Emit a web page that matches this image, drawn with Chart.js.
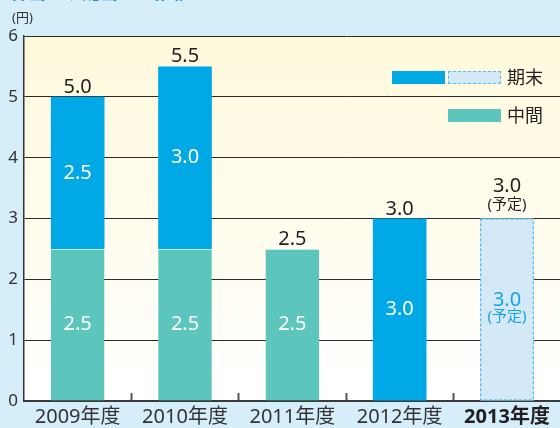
<!DOCTYPE html>
<html lang="ja">
<head>
<meta charset="utf-8">
<script src="https://cdn.jsdelivr.net/npm/chart.js@4.4.1/dist/chart.umd.min.js"></script>
<style>
  html, body {
    margin: 0;
    padding: 0;
  }
  body {
    width: 560px;
    height: 428px;
    overflow: hidden;
    position: relative;
    background: #d6edfa;
    font-family: 'Noto Sans', 'Noto Sans CJK JP', sans-serif;
    color: #231f20;
  }
  #chartBox {
    position: absolute;
    left: 0;
    top: 0;
    width: 668px;
    height: 428px;
  }
  .title {
    position: absolute;
    left: 0;
    top: -22px;
    font-size: 18px;
    font-weight: bold;
    color: #1b8fd6;
    white-space: nowrap;
  }
  .unit {
    position: absolute;
    left: 12px;
    top: 7px;
    font-size: 13px;
    color: #333;
  }
  .legend-box {
    position: absolute;
    width: 53px;
    height: 13px;
    box-sizing: border-box;
  }
  .legend-text {
    position: absolute;
    left: 507px;
    font-size: 18px;
    line-height: 20px;
    color: #231f20;
  }
</style>
</head>
<body>
<div id="chartBox"><canvas id="dividendChart" width="668" height="428"></canvas></div>
<div class="title">1株当たり配当金の推移</div>
<div class="unit">(円)</div>
<div class="legend-box" style="left:392px;top:71px;background:#00a8e5;"></div>
<div class="legend-box" style="left:448px;top:71px;background:#d3e9f8;border:1px dashed #58bde9;"></div>
<div class="legend-text" style="top:67px;">期末</div>
<div class="legend-box" style="left:448px;top:109px;background:#5cc5bc;"></div>
<div class="legend-text" style="top:105px;">中間</div>
<script>
const categories = ['2009年度', '2010年度', '2011年度', '2012年度', '2013年度'];
const interimValues = [2.5, 2.5, 2.5, null, null];   // 中間
const yearEndValues = [2.5, 3.0, null, 3.0, null];   // 期末
const plannedValues = [null, null, null, null, 3.0]; // 期末 (予定)
const yMin = 0;
const yMax = 6;
const yStep = 1;

const BLUE = '#00a8e5';
const TEAL = '#5cc5bc';
const PLAN_FILL = '#d3e9f8';
const PLAN_LINE = '#38b3e8';
const TEXT = '#231f20';
const FONT = "'Noto Sans', 'Noto Sans CJK JP', sans-serif";

Chart.defaults.font.family = FONT;

// chart area background: pale yellow fading to white
const areaBackground = {
  id: 'areaBackground',
  beforeDraw(chart) {
    const { ctx, chartArea: a } = chart;
    const g = ctx.createLinearGradient(0, a.top, 0, a.bottom);
    g.addColorStop(0, '#fff9db');
    g.addColorStop(1, '#ffffff');
    ctx.save();
    ctx.fillStyle = g;
    ctx.fillRect(a.left, a.top, a.right - a.left, a.bottom - a.top);
    ctx.restore();
  }
};

// value labels inside bars, totals above, dashed outline for the planned bar
const valueLabels = {
  id: 'valueLabels',
  afterDatasetsDraw(chart) {
    const ctx = chart.ctx;
    const tops = [];
    const totals = [];
    const planned = [];
    ctx.save();
    ctx.textAlign = 'center';
    chart.data.datasets.forEach((ds, di) => {
      const meta = chart.getDatasetMeta(di);
      meta.data.forEach((bar, i) => {
        const v = ds.data[i];
        if (v == null) return;
        totals[i] = (totals[i] || 0) + v;
        if (tops[i] == null || bar.y < tops[i]) tops[i] = bar.y;
        const mid = (bar.y + bar.base) / 2;
        if (ds.planned) {
          planned[i] = true;
          ctx.setLineDash([3, 2]);
          ctx.strokeStyle = PLAN_LINE;
          ctx.lineWidth = 1;
          ctx.strokeRect(bar.x - bar.width / 2 + 0.5, bar.y + 0.5, bar.width - 1, bar.base - bar.y - 1);
          ctx.setLineDash([]);
          ctx.fillStyle = '#17a4e0';
          ctx.font = '20px ' + FONT;
          ctx.textBaseline = 'alphabetic';
          ctx.fillText(v.toFixed(1), bar.x, mid - 4);
          ctx.font = '15px ' + FONT;
          ctx.textBaseline = 'middle';
          ctx.fillText('(予定)', bar.x, mid + 7);
        } else {
          ctx.fillStyle = '#ffffff';
          ctx.font = '20px ' + FONT;
          ctx.textBaseline = 'middle';
          ctx.fillText(v.toFixed(1), bar.x, mid);
        }
      });
    });
    const x = chart.scales.x;
    ctx.fillStyle = TEXT;
    totals.forEach((t, i) => {
      if (t == null) return;
      const px = x.getPixelForValue(i);
      ctx.font = '20px ' + FONT;
      ctx.textBaseline = 'alphabetic';
      if (planned[i]) {
        ctx.fillText(t.toFixed(1), px, tops[i] - 27);
        ctx.font = '15px ' + FONT;
        ctx.textBaseline = 'middle';
        ctx.fillText('(予定)', px, tops[i] - 14);
      } else {
        ctx.fillText(t.toFixed(1), px, tops[i] - 4);
      }
    });
    ctx.restore();
  }
};

new Chart(document.getElementById('dividendChart'), {
  type: 'bar',
  data: {
    // trailing empty slot lets the plot run past the right edge of the window
    labels: categories.concat(['']),
    datasets: [
      {
        label: '中間',
        data: interimValues,
        backgroundColor: TEAL,
        borderColor: '#c4ebe7',
        borderWidth: { top: 1, right: 0, bottom: 0, left: 0 },
        borderSkipped: false
      },
      {
        label: '期末',
        data: yearEndValues,
        backgroundColor: BLUE,
        borderWidth: 0
      },
      {
        label: '期末(予定)',
        data: plannedValues,
        backgroundColor: PLAN_FILL,
        borderWidth: 0,
        planned: true
      }
    ]
  },
  options: {
    responsive: false,
    animation: false,
    categoryPercentage: 1,
    barPercentage: 0.5,
    layout: {
      padding: { top: 36, right: 0, bottom: 0, left: 0 }
    },
    plugins: {
      legend: { display: false },
      tooltip: { enabled: false }
    },
    scales: {
      x: {
        stacked: true,
        afterFit(scale) {
          scale.height = 27;
        },
        border: { color: '#3a3a3a', width: 2 },
        grid: {
          offset: true,
          drawOnChartArea: false,
          tickLength: -8,
          tickWidth: 2,
          tickColor: (c) => (c.index >= 1 && c.index <= 4 ? '#555555' : 'rgba(0,0,0,0)')
        },
        ticks: {
          padding: 12,
          color: (c) => (c.index === 4 ? TEXT : '#333333'),
          font: (c) => ({ size: 20, weight: c.index === 4 ? 'bold' : 'normal' })
        }
      },
      y: {
        stacked: true,
        min: yMin,
        max: yMax,
        afterFit(scale) {
          scale.width = 24;
        },
        border: { color: '#333333', width: 1.5 },
        grid: {
          color: '#2b2b2b',
          lineWidth: 1,
          drawTicks: false
        },
        ticks: {
          stepSize: yStep,
          padding: 6,
          color: '#333333',
          font: { size: 17 }
        }
      }
    }
  },
  plugins: [areaBackground, valueLabels]
});
</script>
</body>
</html>
